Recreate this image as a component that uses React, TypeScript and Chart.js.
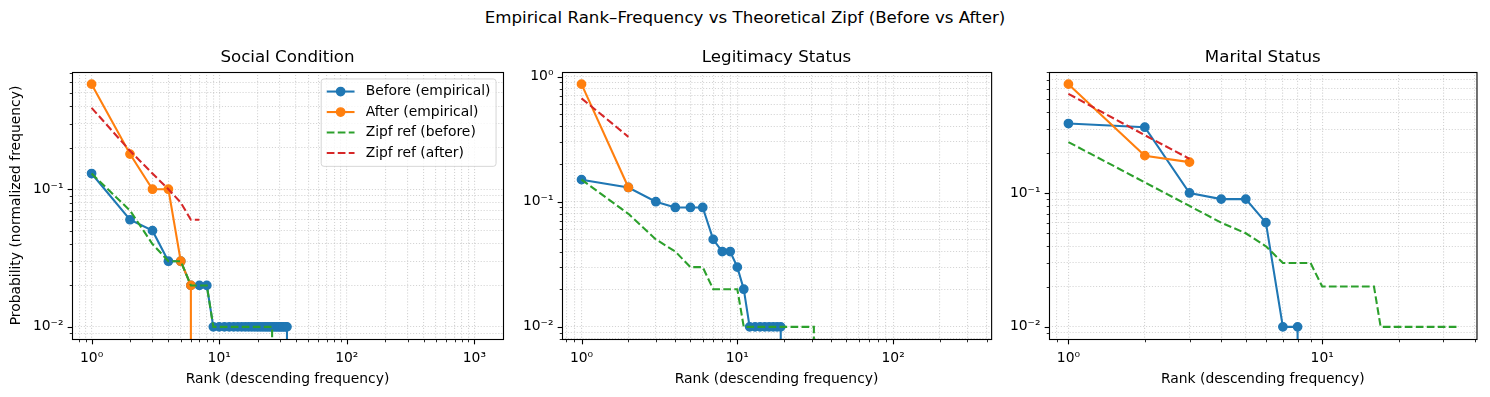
import React, { useEffect, useRef } from "react";
import { Chart, registerables } from "chart.js";

Chart.register(...registerables);

// ---------- text ----------
const SUPTITLE = "Empirical Rank–Frequency vs Theoretical Zipf (Before vs After)";
const PANEL_TITLES = ["Social Condition", "Legitimacy Status", "Marital Status"];
const SERIES_LABELS = ["Before (empirical)", "After (empirical)", "Zipf ref (before)", "Zipf ref (after)"];
const X_TITLE = "Rank (descending frequency)";
const Y_TITLE = "Probability (normalized frequency)";

// ---------- data (probability by rank; rank = index + 1; 0 = rounds to zero) ----------
const socialBefore = [
  0.13, 0.06, 0.05, 0.03, 0.03, 0.02, 0.02, 0.02,
  0.01, 0.01, 0.01, 0.01, 0.01, 0.01, 0.01, 0.01, 0.01, 0.01,
  0.01, 0.01, 0.01, 0.01, 0.01, 0.01, 0.01, 0.01, 0.01, 0.01,
  0.01, 0.01, 0.01, 0.01, 0.01, 0.01,
  0,
];
const socialAfter = [0.58, 0.18, 0.1, 0.1, 0.03, 0.02, 0];
const socialZipfBefore = [
  0.13, 0.07, 0.04, 0.03, 0.03, 0.02, 0.02, 0.02,
  0.01, 0.01, 0.01, 0.01, 0.01, 0.01, 0.01, 0.01, 0.01, 0.01,
  0.01, 0.01, 0.01, 0.01, 0.01, 0.01, 0.01, 0.01,
  0,
];
const socialZipfAfter = [0.39, 0.19, 0.13, 0.1, 0.08, 0.06, 0.06];
const socialRankCount = 1178;

const legitBefore = [
  0.15, 0.13, 0.1, 0.09, 0.09, 0.09, 0.05, 0.04, 0.04, 0.03, 0.02,
  0.01, 0.01, 0.01, 0.01, 0.01, 0.01, 0.01, 0.01,
  0,
];
const legitAfter = [0.87, 0.13];
const legitZipfBefore = [
  0.15, 0.08, 0.05, 0.04, 0.03, 0.03, 0.02, 0.02, 0.02, 0.02,
  0.01, 0.01, 0.01, 0.01, 0.01, 0.01, 0.01, 0.01, 0.01, 0.01,
  0.01, 0.01, 0.01, 0.01, 0.01, 0.01, 0.01, 0.01, 0.01, 0.01, 0.01,
  0,
];
const legitZipfAfter = [0.67, 0.33];
const legitRankCount = 319;

const maritalBefore = [0.33, 0.31, 0.1, 0.09, 0.09, 0.06, 0.01, 0.01, 0];
const maritalAfter = [0.65, 0.19, 0.17];
const maritalZipfBefore = [
  0.24, 0.12, 0.08, 0.06, 0.05, 0.04, 0.03, 0.03, 0.03,
  0.02, 0.02, 0.02, 0.02, 0.02, 0.02, 0.02,
  0.01, 0.01, 0.01, 0.01, 0.01, 0.01, 0.01, 0.01, 0.01,
  0.01, 0.01, 0.01, 0.01, 0.01, 0.01, 0.01, 0.01, 0.01,
];
const maritalZipfAfter = [0.55, 0.27, 0.18];
const maritalRankCount = 34;

const PANEL_SERIES = [
  [socialBefore, socialAfter, socialZipfBefore, socialZipfAfter],
  [legitBefore, legitAfter, legitZipfBefore, legitZipfAfter],
  [maritalBefore, maritalAfter, maritalZipfBefore, maritalZipfAfter],
];
const PANEL_RANKS = [socialRankCount, legitRankCount, maritalRankCount];

// ---------- style / layout ----------
const FONT = "'DejaVu Sans', 'Liberation Sans', sans-serif";
const FS = 13.89;
const FS_TITLE = 16.67;
const COLORS = ["#1f77b4", "#ff7f0e", "#2ca02c", "#d62728"];
const DASHED = [false, false, true, true];
const FIG_W = 1490;
const FIG_H = 397;
const PLOT_BOTTOM = 339;
const Y_AXIS_W = 72;
const RIGHT_PAD = 6;
const PLOT_X = [
  [72, 503],
  [562, 992],
  [1049, 1480],
];
// matplotlib clips non-positive values on log axes to a tiny positive number
const LOG_FLOOR = 1e-300;

const SUP: Record<string, string> = { "-": "⁻", "0": "⁰", "1": "¹", "2": "²", "3": "³", "4": "⁴" };
const decadeLabel = (v: number) => {
  const e = Math.log10(v);
  const r = Math.round(e);
  if (Math.abs(e - r) > 1e-6) return "";
  return "10" + String(r).split("").map((c) => SUP[c]).join("");
};

function logTicks(min: number, max: number) {
  const out: { value: number; major: boolean }[] = [];
  for (let e = Math.floor(Math.log10(min)); e <= Math.ceil(Math.log10(max)); e++) {
    for (let m = 1; m <= 9; m++) {
      const v = parseFloat((m * Math.pow(10, e)).toPrecision(10));
      if (v >= min * (1 - 1e-9) && v <= max * (1 + 1e-9)) out.push({ value: v, major: m === 1 });
    }
  }
  return out;
}

const framePlugin = {
  id: "mplFrame",
  afterDatasetsDraw(chart: any) {
    const { ctx, chartArea: a, scales } = chart;
    ctx.save();
    ctx.strokeStyle = "#000";
    ctx.setLineDash([]);
    for (const t of scales.x.ticks) {
      const px = Math.round(scales.x.getPixelForValue(t.value)) + 0.5;
      ctx.lineWidth = t.major ? 1.11 : 0.83;
      const len = t.major ? 4.86 : 2.78;
      ctx.beginPath();
      ctx.moveTo(px, a.bottom + 0.5);
      ctx.lineTo(px, a.bottom + 0.5 + len);
      ctx.stroke();
    }
    for (const t of scales.y.ticks) {
      const py = Math.round(scales.y.getPixelForValue(t.value)) + 0.5;
      ctx.lineWidth = t.major ? 1.11 : 0.83;
      const len = t.major ? 4.86 : 2.78;
      ctx.beginPath();
      ctx.moveTo(a.left + 0.5, py);
      ctx.lineTo(a.left + 0.5 - len, py);
      ctx.stroke();
    }
    ctx.lineWidth = 1.11;
    ctx.strokeRect(a.left + 0.5, a.top + 0.5, a.right - a.left, a.bottom - a.top);
    ctx.restore();
  },
};

const legendPlugin = {
  id: "mplLegend",
  afterDraw(chart: any) {
    const { ctx, chartArea: a } = chart;
    const dss = chart.data.datasets;
    ctx.save();
    ctx.font = `${FS}px ${FONT}`;
    const textW = Math.max(...dss.map((d: any) => ctx.measureText(d.label).width));
    const pad = 0.4 * FS;
    const handleLen = 2 * FS;
    const handlePad = 0.8 * FS;
    const pitch = 20.5;
    const w = pad + handleLen + handlePad + textW + pad;
    const h = 87.4;
    const x0 = a.right - 0.5 * FS - w;
    const y0 = a.top + 0.5 * FS;
    ctx.beginPath();
    ctx.roundRect(x0, y0, w, h, 2.8);
    ctx.fillStyle = "rgba(255,255,255,0.8)";
    ctx.fill();
    ctx.strokeStyle = "rgba(204,204,204,0.8)";
    ctx.lineWidth = 1;
    ctx.stroke();
    dss.forEach((d: any, i: number) => {
      const cy = y0 + 12.6 + i * pitch;
      const hx0 = x0 + pad;
      ctx.strokeStyle = d.borderColor;
      ctx.lineWidth = d.borderWidth;
      ctx.setLineDash(d.borderDash || []);
      ctx.beginPath();
      ctx.moveTo(hx0, cy);
      ctx.lineTo(hx0 + handleLen, cy);
      ctx.stroke();
      ctx.setLineDash([]);
      if (d.legendMarker) {
        ctx.beginPath();
        ctx.arc(hx0 + handleLen / 2, cy, 4.17, 0, Math.PI * 2);
        ctx.fillStyle = d.borderColor;
        ctx.fill();
        ctx.lineWidth = 1.39;
        ctx.stroke();
      }
      ctx.fillStyle = "#000";
      ctx.textBaseline = "middle";
      ctx.textAlign = "left";
      ctx.fillText(d.label, hx0 + handleLen + handlePad, cy);
    });
    ctx.restore();
  },
};

function PanelChart({ idx }: { idx: number }) {
  const ref = useRef<HTMLCanvasElement>(null);
  const [L, R] = PLOT_X[idx];
  const canvasLeft = L - Y_AXIS_W;
  const canvasW = R - L + Y_AXIS_W + RIGHT_PAD;

  useEffect(() => {
    const series = PANEL_SERIES[idx];
    const n = PANEL_RANKS[idx];
    const logN = Math.log10(n);
    const xMin = Math.pow(10, -0.05 * logN);
    const xMax = Math.pow(10, 1.05 * logN);
    const pos = series.flat().filter((v) => v > 0);
    const lo = Math.log10(Math.min(...pos));
    const hi = Math.log10(Math.max(...pos));
    const span = hi - lo;
    const yMin = Math.pow(10, lo - 0.05 * span);
    const yMax = Math.pow(10, hi + 0.05 * span);

    const datasets = series.map((vals, s) => {
      const dashed = DASHED[s];
      return {
        label: SERIES_LABELS[s],
        data: vals.map((v, i) => ({ x: i + 1, y: v > 0 ? v : LOG_FLOOR })),
        borderColor: COLORS[s],
        backgroundColor: COLORS[s],
        borderWidth: 2.08,
        borderDash: dashed ? [7.7, 3.3] : [],
        pointRadius: dashed ? 0 : (c: any) => (c.raw && c.raw.y > LOG_FLOOR ? 4.17 : 0),
        pointBorderWidth: 1.39,
        pointBackgroundColor: COLORS[s],
        pointBorderColor: COLORS[s],
        pointHoverRadius: 0,
        tension: 0,
        fill: false,
        clip: 0,
        order: 4 - s,
        legendMarker: !dashed,
      };
    });

    const gridOpts = {
      color: "rgba(176,176,176,0.55)",
      lineWidth: 1.11,
      drawTicks: false,
      drawOnChartArea: true,
    };
    const tickFont = { family: FONT, size: FS };

    const chart = new Chart(ref.current as HTMLCanvasElement, {
      type: "line",
      data: { datasets } as any,
      options: {
        responsive: false,
        animation: false,
        devicePixelRatio: 1,
        events: [],
        layout: { padding: { left: 0, right: RIGHT_PAD, top: 47.5, bottom: 0 } },
        plugins: {
          legend: { display: false },
          tooltip: { enabled: false },
          title: {
            display: true,
            fullSize: false,
            text: PANEL_TITLES[idx],
            color: "#000",
            font: { family: FONT, size: FS_TITLE, weight: "normal" },
            padding: { top: 0, bottom: 4.5 },
          },
        },
        scales: {
          x: {
            type: "logarithmic",
            min: xMin,
            max: xMax,
            bounds: "data",
            offset: false,
            afterBuildTicks: (s: any) => {
              s.ticks = logTicks(s.min, s.max);
            },
            afterFit: (s: any) => {
              s.height = FIG_H - PLOT_BOTTOM;
            },
            ticks: {
              autoSkip: false,
              maxRotation: 0,
              minRotation: 0,
              padding: 11,
              color: "#000",
              font: tickFont,
              callback: (v: any) => decadeLabel(Number(v)),
            },
            grid: gridOpts,
            border: { display: false, dash: [1.11, 1.83] },
            title: {
              display: true,
              text: X_TITLE,
              color: "#000",
              font: { family: FONT, size: FS },
              padding: { top: 0, bottom: 9.4 },
            },
          },
          y: {
            type: "logarithmic",
            min: yMin,
            max: yMax,
            bounds: "data",
            afterBuildTicks: (s: any) => {
              s.ticks = logTicks(s.min, s.max);
            },
            afterFit: (s: any) => {
              s.width = Y_AXIS_W;
            },
            ticks: {
              autoSkip: false,
              padding: 8.5,
              color: "#000",
              font: tickFont,
              callback: (v: any) => decadeLabel(Number(v)),
            },
            grid: gridOpts,
            border: { display: false, dash: [1.11, 1.83] },
            title: {
              display: idx === 0,
              text: Y_TITLE,
              color: "#000",
              font: { family: FONT, size: FS },
              padding: { top: 8, bottom: 0 },
            },
          },
        },
      } as any,
      plugins: idx === 0 ? [framePlugin, legendPlugin] : [framePlugin],
    });
    return () => chart.destroy();
  }, [idx]);

  return (
    <canvas
      ref={ref}
      width={canvasW}
      height={FIG_H}
      style={{ position: "absolute", left: canvasLeft, top: 0, width: canvasW, height: FIG_H }}
    />
  );
}

export default function App() {
  return (
    <div
      style={{
        position: "absolute",
        left: 0,
        top: 0,
        width: FIG_W,
        height: FIG_H,
        background: "#fff",
        overflow: "hidden",
      }}
    >
      <div
        style={{
          position: "absolute",
          left: 0,
          top: 8,
          width: FIG_W,
          textAlign: "center",
          fontFamily: FONT,
          fontSize: FS_TITLE,
          lineHeight: "20px",
          color: "#000",
          whiteSpace: "nowrap",
        }}
      >
        {SUPTITLE}
      </div>
      {[0, 1, 2].map((i) => (
        <PanelChart key={i} idx={i} />
      ))}
    </div>
  );
}
